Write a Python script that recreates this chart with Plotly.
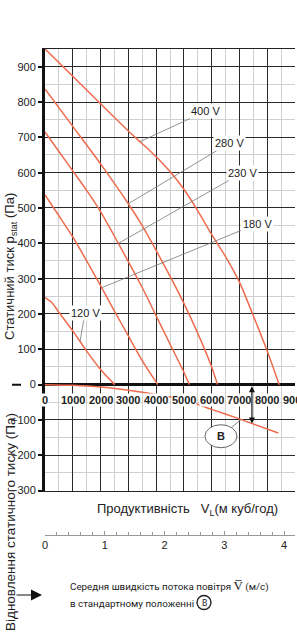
import numpy as np
import plotly.graph_objects as go

# ---------------- data ----------------
flow_400 = [0, 1000, 2000, 3000, 3500, 4000, 4500, 5000, 5500, 6000, 6500, 7000, 7500, 8000, 8430]
p_400 = [950, 873, 795, 718, 682, 645, 603, 553, 492, 425, 362, 290, 195, 95, 0]

flow_280 = [0, 1000, 2000, 3000, 3500, 4000, 4500, 5000, 5500, 6000, 6210]
p_280 = [837, 731, 625, 512, 450, 380, 307, 230, 145, 50, 0]

flow_230 = [0, 500, 1000, 1500, 2000, 2500, 3000, 3500, 4000, 4500, 5000, 5200]
p_230 = [715, 660, 605, 550, 490, 420, 348, 275, 195, 115, 35, 0]

flow_180 = [0, 500, 1000, 1500, 2000, 2500, 3000, 3500, 4060]
p_180 = [537, 478, 418, 350, 280, 208, 138, 68, 0]

flow_120 = [0, 250, 500, 1000, 1500, 2000, 2510]
p_120 = [246, 232, 205, 152, 95, 43, 0]

flow_B = [0, 1000, 2000, 3000, 4000, 5000, 6000, 7000, 8400]
p_B = [0, -2, -7, -16, -28, -43, -70, -97, -137]

curve_names = ["400 V", "280 V", "230 V", "180 V", "120 V"]
curve_flows = [flow_400, flow_280, flow_230, flow_180, flow_120]
curve_press = [p_400, p_280, p_230, p_180, p_120]
pointer_flow = [3420, 3000, 2640, 2040, 1260]
label_pos = [(5795, 774), (6624, 683), (7092, 599), (7632, 455), (1440, 203)]

x_ticks = list(range(0, 9001, 1000))
y_ticks = list(range(-300, 901, 100))
v_ticks = [0, 1, 2, 3, 4]

B_label_pos = (6335, -146)
B_pointer_flow = 7060
B_arrow_flow = 7450

# ---------------- figure ----------------
CURVE = "#EF6B4E"
W, H = 297, 640
ML, MR, MT, MB = 45, 2, 49, 80
plot_h = H - MT - MB
ydom0 = 1 - (1250 * 0.3533) / plot_h

def py2paper(py):
    return (H - MB - py) / plot_h

def px2paper(px):
    return (px - ML) / (W - ML - MR)

fig = go.Figure()
for f, p in zip(curve_flows, curve_press):
    fig.add_trace(go.Scatter(x=f, y=p, mode="lines", line=dict(color=CURVE, width=1.5, shape="spline", smoothing=0.7),
                             hoverinfo="skip", showlegend=False))
fig.add_trace(go.Scatter(x=flow_B, y=p_B, mode="lines", line=dict(color=CURVE, width=1.5, shape="spline", smoothing=0.7),
                         hoverinfo="skip", showlegend=False))
# invisible trace to carry the velocity axis
fig.add_trace(go.Scatter(x=[v_ticks[0], v_ticks[-1]], y=[-300, -300], xaxis="x2", yaxis="y", mode="lines",
                         line=dict(width=0, color="rgba(0,0,0,0)"), hoverinfo="skip", showlegend=False))

ann = []
# curve labels with pointer lines
for name, f, p, pf, (lx, ly) in zip(curve_names, curve_flows, curve_press, pointer_flow, label_pos):
    py_ = float(np.interp(pf, f, p))
    ann.append(dict(x=pf, y=py_, xref="x", yref="y", ax=lx, ay=ly, axref="x", ayref="y",
                    text=name, showarrow=True, arrowhead=0, arrowwidth=0.8, arrowcolor="#777",
                    bgcolor="white", borderpad=1, font=dict(size=11, color="#222", family="Liberation Sans")))

# flow tick labels on the zero line
for t in x_ticks:
    ann.append(dict(x=t, y=0, xref="x", yref="y", text=f"<b>{t}</b>", showarrow=False, yshift=-15,
                    xanchor="center", yanchor="middle",
                    bgcolor="white", borderpad=0, font=dict(size=11, color="#222", family="Liberation Sans")))

# B annotation
bx, by = B_label_pos
ann.append(dict(x=B_pointer_flow, y=float(np.interp(B_pointer_flow, flow_B, p_B)), xref="x", yref="y",
                ax=bx, ay=by, axref="x", ayref="y", text="<b>B</b>", showarrow=True, arrowhead=0,
                arrowwidth=0.8, arrowcolor="#666", startstandoff=7,
                font=dict(size=11, color="#222", family="Liberation Sans")))
ann.append(dict(x=B_arrow_flow, y=float(np.interp(B_arrow_flow, flow_B, p_B)), xref="x", yref="y",
                ax=B_arrow_flow, ay=0, axref="x", ayref="y", text="", showarrow=True, arrowhead=2,
                arrowside="end+start", arrowsize=1, arrowwidth=1.2, arrowcolor="#111"))

# axis titles
ann.append(dict(x=px2paper(10), y=py2paper(267), xref="paper", yref="paper", textangle=-90, showarrow=False,
                xanchor="center", yanchor="middle",
                text="Статичний тиск p<sub>stat</sub> (Па)", font=dict(size=13, color="#222", family="Liberation Sans")))
ann.append(dict(x=px2paper(10), y=py2paper(522), xref="paper", yref="paper", textangle=-90, showarrow=False,
                xanchor="center", yanchor="middle",
                text="Відновлення статичного тиску (Па)", font=dict(size=13.5, color="#222", family="Liberation Sans")))
ann.append(dict(x=px2paper(187), y=py2paper(509), xref="paper", yref="paper", showarrow=False,
                xanchor="center", yanchor="middle",
                text="Продуктивність   V<sub>L</sub>(м куб/год)", font=dict(size=13, color="#222", family="Liberation Sans")))

# legend note at bottom
ann.append(dict(x=px2paper(42), y=py2paper(595), xref="paper", yref="paper", ax=-27, ay=0, text="",
                showarrow=True, arrowhead=2, arrowsize=2.2, arrowwidth=1, arrowcolor="#111"))
ann.append(dict(x=px2paper(68), y=py2paper(586), xref="paper", yref="paper", xanchor="left", yanchor="middle",
                showarrow=False,
                text="Середня швидкість потока повітря <span style='font-size:13px'>V\u0305</span> (м/с)",
                font=dict(size=9.8, color="#222", family="Roboto")))
ann.append(dict(x=px2paper(68), y=py2paper(603), xref="paper", yref="paper", xanchor="left", yanchor="middle",
                showarrow=False,
                text="в стандартному положенні", font=dict(size=9.8, color="#222", family="Roboto")))
ann.append(dict(x=px2paper(204), y=py2paper(602.5), xref="paper", yref="paper", xanchor="center", yanchor="middle",
                showarrow=False, text="B", font=dict(size=8.5, color="#222", family="Roboto")))

shapes = [
    dict(type="line", xref="paper", yref="y", x0=px2paper(12), x1=px2paper(21), y0=0, y1=0,
         line=dict(color="#111", width=2)),
    dict(type="circle", xref="x", yref="y", xsizemode="pixel", ysizemode="pixel", xanchor=bx, yanchor=by,
         x0=-16, x1=16, y0=-11.5, y1=11.5, line=dict(color="#666", width=1), fillcolor="white", layer="above"),
    dict(type="circle", xref="paper", yref="paper", xsizemode="pixel", ysizemode="pixel",
         xanchor=px2paper(204), yanchor=py2paper(602.5), x0=-7, x1=7, y0=-7, y1=7,
         line=dict(color="#222", width=1.4)),
]

fig.update_layout(
    width=W, height=H, margin=dict(l=ML, r=MR, t=MT, b=MB),
    plot_bgcolor="white", paper_bgcolor="white", showlegend=False,
    font=dict(family="Liberation Sans", color="#222"),
    xaxis=dict(range=[0, 9000], domain=[0, 1], anchor="y", tickvals=x_ticks, showticklabels=False, ticks="",
               showgrid=True, gridcolor="#2a2a2a", gridwidth=1.2,
               minor=dict(dtick=500, tick0=0, showgrid=True, gridcolor="#cfcfcf", gridwidth=1),
               showline=True, mirror=True, linecolor="#222", linewidth=1.2, zeroline=False, fixedrange=True),
    yaxis=dict(range=[-300, 950], domain=[ydom0, 1], tickvals=y_ticks, ticks="outside", ticklen=4,
               tickwidth=1.5, tickcolor="#111", tickfont=dict(size=11, color="#222"),
               showgrid=True, gridcolor="#2a2a2a", gridwidth=1.2,
               minor=dict(dtick=50, tick0=0, showgrid=True, gridcolor="#cfcfcf", gridwidth=1),
               zeroline=True, zerolinecolor="#111", zerolinewidth=2.5,
               showline=True, linecolor="#111", linewidth=3, fixedrange=True),
    xaxis2=dict(range=[0, 250 / 59.75], overlaying="x", anchor="free", position=py2paper(535), side="bottom",
                tickvals=v_ticks, ticks="inside", ticklen=4, tickcolor="#999", tickwidth=1,
                minor=dict(dtick=0.2, tick0=0, ticks="inside", ticklen=3, tickcolor="#999", showgrid=False),
                showgrid=False, zeroline=False, showline=True, linecolor="#999", linewidth=1,
                tickfont=dict(size=11, color="#222"), fixedrange=True),
    annotations=ann, shapes=shapes,
)

fig.write_html("out.html")
